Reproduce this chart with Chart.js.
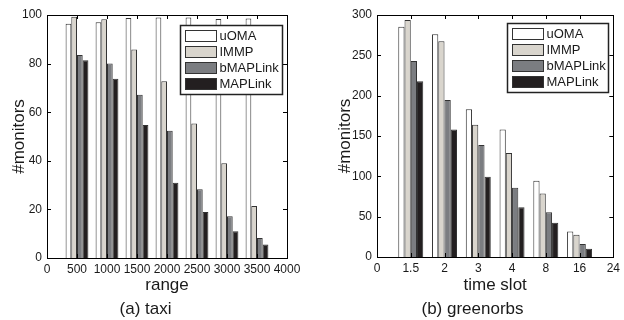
<!DOCTYPE html>
<html><head><meta charset="utf-8">
<script src="https://cdn.jsdelivr.net/npm/chart.js@4/dist/chart.umd.min.js"></script>
<style>
html,body{margin:0;padding:0;background:#fff;}
#wrap{display:flex;width:624px;height:320px;}
.box{position:relative;width:312px;height:320px;}
</style></head><body>
<div id="wrap"><div class="box"><canvas id="taxi"></canvas></div><div class="box"><canvas id="green"></canvas></div></div>
<script>
// --- data ---
const seriesNames=["uOMA","IMMP","bMAPLink","MAPLink"];
const seriesFill=["#ffffff","#d9d5cd","#7b7d81","#231f20"];

const rangeTicks=["0","500","1000","1500","2000","2500","3000","3500","4000"];
const taxiUOMA=[96.4,97.0,98.8,99.0,99.0,98.4,98.6];
const taxiIMMP=[99.3,98.2,85.8,72.7,55.4,39.0,21.4];
const taxiBMAP=[83.5,80.0,67.2,52.4,28.3,17.2,8.2];
const taxiMAP=[81.4,73.8,54.7,31.0,18.9,11.0,5.6];

const slotTicks=["0","1.5","2","3","4","8","16","24"];
const greenUOMA=[285.4,276.0,183.3,158.0,94.6,31.7];
const greenIMMP=[293.8,267.5,164.0,129.0,78.6,27.6];
const greenBMAP=[243.0,194.6,138.8,86.0,55.6,16.0];
const greenMAP=[218.0,158.0,99.6,61.7,42.4,10.3];

Chart.defaults.font.family="'Liberation Sans', Arial, sans-serif";
Chart.defaults.color="#1a1a1a";

// box round the plot with inward ticks, and a legend inside it
const boxPlugin={
  id:"mbox",
  afterDraw(chart,args,o){
    const c=chart.ctx, a=chart.chartArea, xs=chart.scales.x, ys=chart.scales.y;
    c.save();
    c.strokeStyle="#000"; c.lineWidth=1;
    c.strokeRect(Math.round(a.left)+0.5,Math.round(a.top)+0.5,Math.round(a.right-a.left),Math.round(a.bottom-a.top));
    c.beginPath();
    xs.ticks.forEach((t,i)=>{
      const x=Math.round(xs.getPixelForTick(i))+0.5;
      c.moveTo(x,a.bottom); c.lineTo(x,a.bottom-4);
      c.moveTo(x,a.top); c.lineTo(x,a.top+4);
    });
    ys.ticks.forEach((t,i)=>{
      const y=Math.round(ys.getPixelForTick(i))+0.5;
      c.moveTo(a.left,y); c.lineTo(a.left+4,y);
      c.moveTo(a.right,y); c.lineTo(a.right-4,y);
    });
    c.stroke();
    // legend
    const L=o.legend;
    const bx=Math.round(a.right-L.right-L.w)+0.5, by=Math.round(a.top+L.top)+0.5;
    c.fillStyle="#fff"; c.fillRect(bx,by,L.w,L.h);
    c.strokeStyle="#222"; c.lineWidth=1.5; c.strokeRect(bx,by,L.w,L.h);
    c.lineWidth=1;
    c.font="13px 'Liberation Sans', Arial, sans-serif";
    c.textBaseline="middle";
    chart.data.datasets.forEach((d,i)=>{
      const y=by+10+i*16;
      c.fillStyle=d.backgroundColor; c.fillRect(bx+5,y-5,31,11);
      c.strokeStyle="#333"; c.strokeRect(bx+5,y-5,31,11);
      c.fillStyle="#1a1a1a"; c.fillText(d.label,bx+39,y+1);
    });
    c.restore();
  }
};

function makeChart(id,labels,series,yMax,yStep,xTitle,title,lay){
  const pad=v=>[null,...v,null];
  return new Chart(document.getElementById(id),{
    type:"bar",
    data:{labels:labels,datasets:series.map((v,i)=>({
      label:seriesNames[i],data:pad(v),backgroundColor:seriesFill[i],
      borderColor:"#333",borderWidth:1,barPercentage:1,categoryPercentage:lay.cat
    }))},
    options:{
      responsive:false,animation:false,
      layout:{padding:{left:lay.padLeft,right:lay.padRight,top:15,bottom:0}},
      plugins:{
        legend:{display:false},tooltip:{enabled:false},
        title:{display:true,text:title,position:"bottom",font:{size:17,weight:"normal"},color:"#1a1a1a",padding:{top:0,bottom:0}},
        mbox:{legend:lay.legend}
      },
      scales:{
        x:{offset:false,grid:{display:false,drawTicks:false},border:{display:false},
          ticks:{font:{size:12},padding:4,maxRotation:0,autoSkip:false},
          title:{display:true,text:xTitle,font:{size:17},padding:{top:0,bottom:4}},
          afterFit:s=>{s.height=320-20.4-lay.bottom;}},
        y:{min:0,max:yMax,grid:{display:false,drawTicks:false},border:{display:false},
          ticks:{stepSize:yStep,font:{size:12},padding:5},
          title:{display:true,text:"#monitors",font:{size:17},padding:{top:5,bottom:0}},
          afterFit:s=>{s.width=lay.left-lay.padLeft;}}
      }
    },
    plugins:[boxPlugin]
  });
}

const c1=document.getElementById("taxi"); c1.width=312; c1.height=320;
const c2=document.getElementById("green"); c2.width=312; c2.height=320;

makeChart("taxi",rangeTicks,[taxiUOMA,taxiIMMP,taxiBMAP,taxiMAP],100,20,"range","(a) taxi",
  {cat:0.76,padLeft:4,padRight:25,left:47,bottom:258,legend:{right:5,top:10,w:102,h:69}});
makeChart("green",slotTicks,[greenUOMA,greenIMMP,greenBMAP,greenMAP],300,50,"time slot","(b) greenorbs",
  {cat:0.74,padLeft:18,padRight:9,left:65,bottom:257,legend:{right:5,top:8,w:101,h:69}});
</script>
</body></html>
